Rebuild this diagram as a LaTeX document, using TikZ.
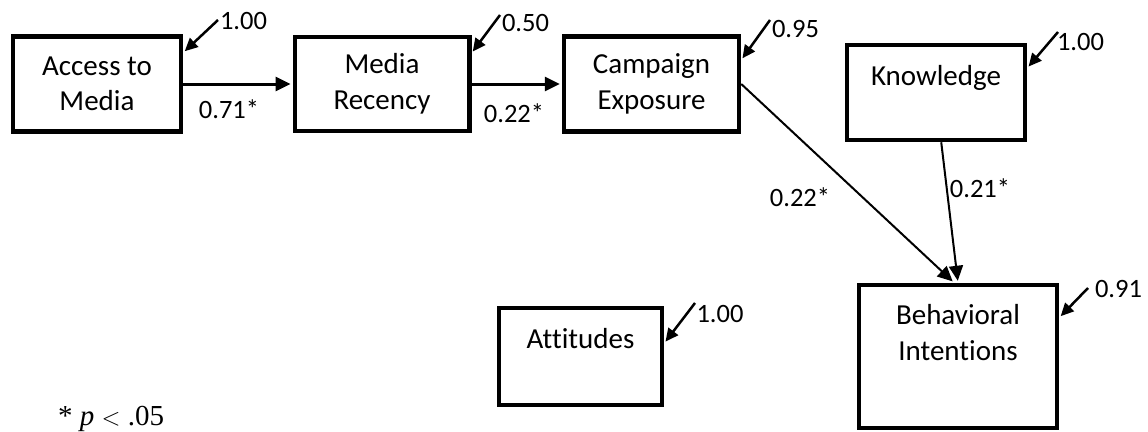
\documentclass[tikz,border=0pt]{standalone}
\usepackage{fontspec}
\setmainfont{Carlito}[Ligatures=NoCommon]
\newfontfamily\notefont{Liberation Serif}
\usetikzlibrary{arrows.meta}

\begin{document}
\begin{tikzpicture}[x=1pt,y=-1pt,
  box/.style={draw, line width=4.5pt, rectangle, inner sep=0pt, align=center,
    font=\fontsize{29}{35.5}\selectfont},
  boxtext/.style={inner sep=0pt, align=center, font=\fontsize{29}{35.5}\selectfont},
  coef/.style={inner sep=0pt, font=\fontsize{26.5}{30}\selectfont},
  link/.style={line width=3pt, shorten >=2pt, -{Triangle[length=15pt,width=14pt]}},
  diag/.style={line width=2pt, shorten >=2pt, -{Triangle[length=15pt,width=14pt]}},
  resid/.style={line width=2.5pt, shorten >=2pt, -{Triangle[length=13pt,width=12pt]}}
]
\useasboundingbox (0,0) rectangle (1148,431);

% variables
\node[box, minimum width=168pt, minimum height=95pt] (acc) at (97,84) {Access to\\Media};
\node[box, minimum width=174.5pt, minimum height=94pt] (rec) at (382,84) {Media\\Recency};
\node[box, minimum width=175pt, minimum height=95pt] (camp) at (651.5,84) {Campaign\\Exposure};
\node[box, minimum width=178pt, minimum height=95pt] (know) at (936,92.5) {};
\node[boxtext] (know-t) at (936,77.5) {Knowledge};
\node[box, minimum width=163pt, minimum height=97pt] (att) at (580.5,356.5) {};
\node[boxtext] (att-t) at (580.5,338.8) {Attitudes};
\node[box, minimum width=198pt, minimum height=143pt] (beh) at (958,356.5) {};
\node[boxtext] (beh-t) at (958,332.5) {Behavioral\\Intentions};

% structural paths
\draw[link] (acc.east) -- (rec.west);
\draw[link] (rec.east) -- (camp.west);
\draw[diag] (camp.east) -- (beh.93);
\draw[diag] (know.-84) -- (beh.north);

% error terms
\coordinate (r1) at (218,20);
\coordinate (r2) at (500,15);
\coordinate (r3) at (770,20);
\coordinate (r4) at (1058,32);
\coordinate (r5) at (695,303);
\coordinate (r6) at (1088,288);
\draw[resid] (r1) -- (acc.20);
\draw[resid] (r2) -- (rec.19.5);
\draw[resid] (r3) -- (camp.15.6);
\draw[resid] (r4) -- (know.15.4);
\draw[resid] (r5) -- (att.9.3);
\draw[resid] (r6) -- (beh.21.3);

% residual variances
\node[coef] (v1) at (243.5,21.3) {1.00};
\node[coef] (v2) at (525.5,23.3) {0.50};
\node[coef] (v3) at (795.5,28.7) {0.95};
\node[coef] (v4) at (1080.5,42) {1.00};
\node[coef] (v5) at (720,313.8) {1.00};
\node[coef] (v6) at (1118.5,288.7) {0.91};

% path coefficients
\node[coef] (w1) at (229,109) {0.71*};
\node[coef] (w2) at (514,113) {0.22*};
\node[coef] (w3) at (800,196.7) {0.22*};
\node[coef] (w4) at (980,188.3) {0.21*};

% significance note
\node[anchor=base west, inner sep=0pt, font=\notefont\fontsize{29}{34}\selectfont] (note)
  at (58,425.7) {* \textit{p} $<$ .05};
\end{tikzpicture}
\end{document}
